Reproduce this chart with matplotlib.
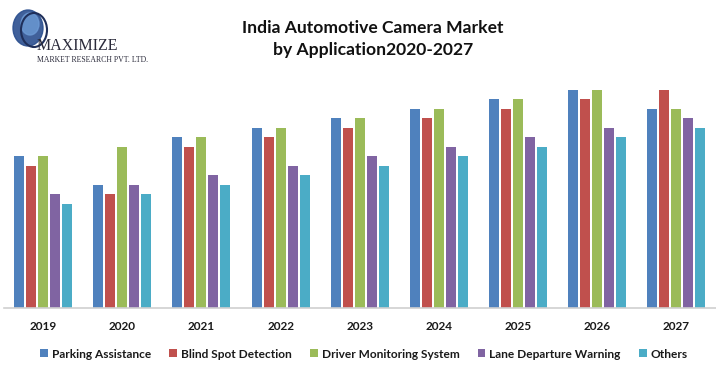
import matplotlib
matplotlib.use("Agg")
import matplotlib.pyplot as plt
import numpy as np
from matplotlib.patches import Ellipse

years = ["2019", "2020", "2021", "2022", "2023", "2024", "2025", "2026", "2027"]
series_names = ["Parking Assistance", "Blind Spot Detection", "Driver Monitoring System",
                "Lane Departure Warning", "Others"]
parking = [16, 13, 18, 19, 20, 21, 22, 23, 21]
blind = [15, 12, 17, 18, 19, 20, 21, 22, 23]
driver = [16, 17, 18, 19, 20, 21, 22, 23, 21]
lane = [12, 13, 14, 15, 16, 17, 18, 19, 20]
others = [11, 12, 13, 14, 15, 16, 17, 18, 19]
colors = ["#4F81BD", "#C0504D", "#9BBB59", "#8064A2", "#4BACC6"]

W, H = 716, 368
fig = plt.figure(figsize=(W / 100, H / 100), dpi=100)
ax = fig.add_axes([3.5 / W, (H - 308) / H, (716 - 3.5) / W, (308 - 80) / H])

x = np.arange(len(years))
slot = 0.152
width = 0.126
handles = []
for i, (vals, name, c) in enumerate(zip([parking, blind, driver, lane, others], series_names, colors)):
    b = ax.bar(x + (i - 2) * slot, vals, width=width, color=c, label=name)
    handles.append(b)

ax.set_xlim(-0.5, 8.5)
ax.set_ylim(0, 24)
ax.set_yticks([])
ax.set_xticks(x)
ax.set_xticklabels(years, fontsize=8.5, fontweight="bold", color="#1a1a1a", family="Lato")
ax.tick_params(axis="x", length=0, pad=9)
for s in ["top", "left", "right"]:
    ax.spines[s].set_visible(False)
ax.spines["bottom"].set_color("#d0d0d0")
ax.spines["bottom"].set_linewidth(1.2)

leg = fig.legend(handles=handles, labels=series_names, loc="center", bbox_to_anchor=(364 / W, 1 - 354 / H),
                 ncol=5, frameon=False, handlelength=0.65, handleheight=0.65, handletextpad=0.35,
                 columnspacing=1.5, prop={"family": "Lato", "weight": "bold", "size": 8.6})
for t in leg.get_texts():
    t.set_color("#1a1a1a")

fig.text(373 / W, 1 - 28 / H, "India Automotive Camera Market", ha="center", va="center",
         fontsize=12.6, fontweight="bold", family="Lato", color="#111111")
fig.text(373 / W, 1 - 50 / H, "by Application2020-2027", ha="center", va="center",
         fontsize=12.6, fontweight="bold", family="Lato", color="#111111")

# logo
lax = fig.add_axes([0, 1 - 70 / H, 160 / W, 70 / H])
lax.set_xlim(0, 160)
lax.set_ylim(70, 0)
lax.axis("off")
lax.add_patch(Ellipse((28, 28), 30, 36, color="#2b4f8f", alpha=0.9))
lax.add_patch(Ellipse((30, 24), 18, 22, color="#6d9bd6", alpha=0.8))
lax.add_patch(Ellipse((34, 30), 26, 34, fill=False, ec="#1f2f5a", lw=1.5))
lax.text(37, 46, "MAXIMIZE", fontsize=11.5, family="Liberation Serif", color="#2a2a3a",
         va="center", ha="left", fontstretch="condensed")
lax.text(37, 60.5, "MARKET RESEARCH PVT. LTD.", fontsize=5.6, family="Liberation Serif",
         color="#2a2a3a", va="center", ha="left")

fig.savefig("out.png", dpi=100)
